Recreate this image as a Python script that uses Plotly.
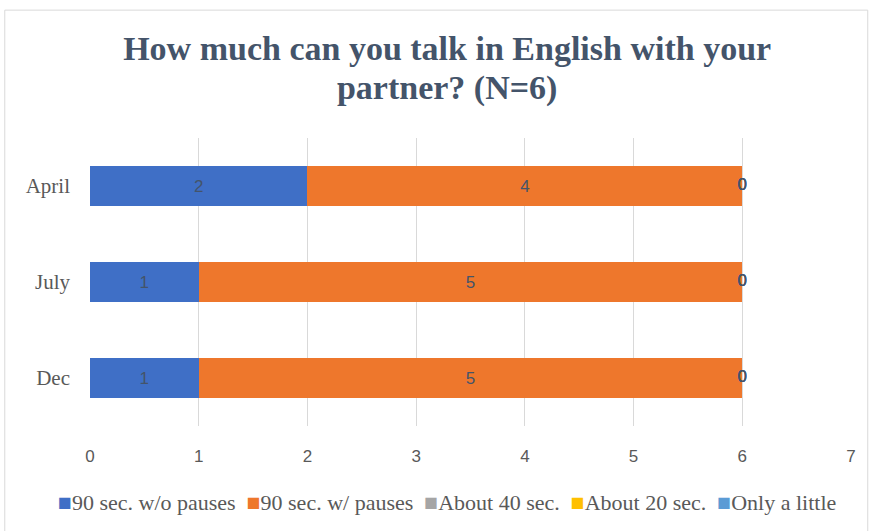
import plotly.graph_objects as go

categories = ["April", "July", "Dec"]
series_names = ["90 sec. w/o pauses", "90 sec. w/ pauses", "About 40 sec.", "About 20 sec.", "Only a little"]
values_wo_pauses = [2, 1, 1]
values_w_pauses = [4, 5, 5]
values_40 = [0, 0, 0]
values_20 = [0, 0, 0]
values_little = [0, 0, 0]
x_ticks = [0, 1, 2, 3, 4, 5, 6, 7]
title_lines = ["How much can you talk in English with your", "partner? (N=6)"]

colors = ["#3F6FC6", "#EE772C", "#A5A5A5", "#FFC000", "#5B9BD5"]
all_values = [values_wo_pauses, values_w_pauses, values_40, values_20, values_little]

label_font = dict(family="Liberation Sans, Arial", size=17, color="#44546A")

fig = go.Figure()
for name, vals, col in zip(series_names, all_values, colors):
    fig.add_trace(go.Bar(
        y=categories, x=vals, name=name, orientation="h",
        marker=dict(color=col, line=dict(width=0)),
        text=[str(v) if v else "" for v in vals],
        textposition="inside", insidetextanchor="middle",
        textfont=label_font,
        hoverinfo="x+name", showlegend=False,
    ))

# zero-valued segments: labels at the end of the stack
cum = [0, 0, 0]
for vals in all_values:
    for i, v in enumerate(vals):
        if v == 0:
            fig.add_trace(go.Scatter(
                x=[cum[i]], y=[categories[i]], mode="text", text=["0"],
                textfont=label_font, textposition="middle center",
                showlegend=False, hoverinfo="skip", cliponaxis=False,
            ))
    cum = [c + v for c, v in zip(cum, vals)]

# legend drawn as text with coloured squares
legend_text = "&nbsp; ".join(
    f"<span style='color:{c};font-size:23px'>■</span>{n}"
    for n, c in zip(series_names, colors)
)
title_text = "<br>".join(f"<span style='font-size:34px'>{t}</span>" for t in title_lines)

fig.update_layout(
    barmode="stack",
    bargap=0.58,
    width=870, height=531,
    margin=dict(l=90, r=19, t=138, b=105),
    paper_bgcolor="white", plot_bgcolor="white",
    title=dict(
        text=f"<b>{title_text}</b>",
        x=0.514, xanchor="center", y=0.887, yanchor="middle", yref="container",
        font=dict(family="Liberation Serif, Times New Roman", size=30, color="#44546A"),
    ),
    showlegend=False,
    annotations=[dict(
        text=legend_text, xref="paper", yref="paper", x=0.469, y=-0.267,
        xanchor="center", yanchor="middle", showarrow=False,
        font=dict(family="Liberation Serif, Times New Roman", size=22, color="#595959"),
    )],
    xaxis=dict(
        range=[0, 7], tickvals=x_ticks, showgrid=True, gridcolor="#D9D9D9", gridwidth=1,
        zeroline=False, showline=False, ticks="",
        tickfont=dict(family="Liberation Sans, Arial", size=17, color="#595959"),
        ticklabelstandoff=18,
    ),
    yaxis=dict(
        autorange="reversed", showgrid=False, zeroline=False, showline=False, ticks="",
        tickfont=dict(family="Liberation Serif, Times New Roman", size=21, color="#595959"),
        ticklabelstandoff=19,
    ),
    shapes=[dict(
        type="rect", xref="paper", yref="paper",
        x0=-0.112, x1=1.022, y0=-0.5, y1=1.444,
        line=dict(color="#D9D9D9", width=1), fillcolor="rgba(0,0,0,0)", layer="below",
    )],
)

fig.write_html("out.html")
